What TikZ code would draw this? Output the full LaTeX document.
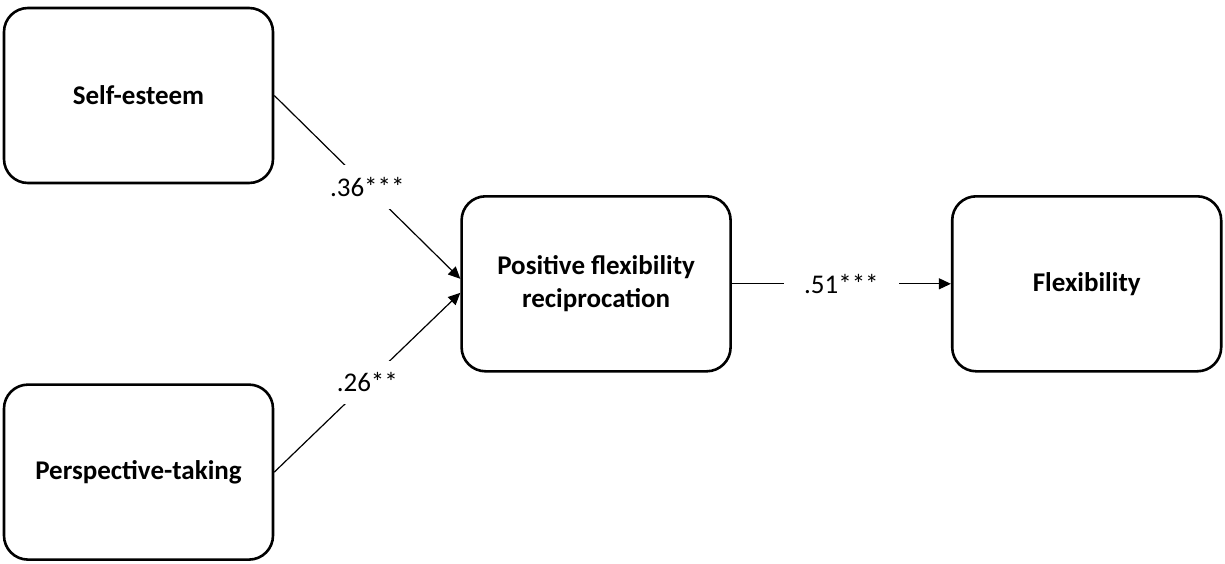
\documentclass[tikz,border=0pt]{standalone}
\usepackage{fontspec}
\setmainfont{Carlito}
\usetikzlibrary{arrows.meta,positioning,calc}

\begin{document}
\begin{tikzpicture}[
    font=\fontsize{13.5}{16.5}\selectfont,
    box/.style={draw, line width=1.3pt, rounded corners=12pt, align=center, font=\fontsize{13.5}{16.5}\selectfont\bfseries, minimum width=134.5pt, minimum height=87.5pt},
    arrow/.style={-{Triangle[length=6pt, width=5.5pt]}, line width=0.6pt},
    coef/.style={fill=white, inner xsep=9pt, inner ysep=6pt}
]
\useasboundingbox (-69.25pt,47.75pt) rectangle ++(612.5pt,-281.5pt);

\node[box] (se) at (0,0) {Self-esteem};
\node[box, below=99.5pt of se] (pt) {Perspective-taking};

\coordinate (mid) at ($(se.east)!0.5!(pt.east)$);
\node[box, right=93pt of mid] (pfr) {Positive flexibility\\reciprocation};
\node[box, right=109.5pt of pfr] (flex) {Flexibility};

\draw[arrow] (se.east) -- node[coef] {.36***} ([yshift=2.5pt]pfr.west);
\draw[arrow] (pt.east) -- node[coef] {.26**} ([yshift=-4.5pt]pfr.west);
\draw[arrow] (pfr) -- node[coef, inner xsep=10pt] {.51***} (flex);
\end{tikzpicture}
\end{document}
